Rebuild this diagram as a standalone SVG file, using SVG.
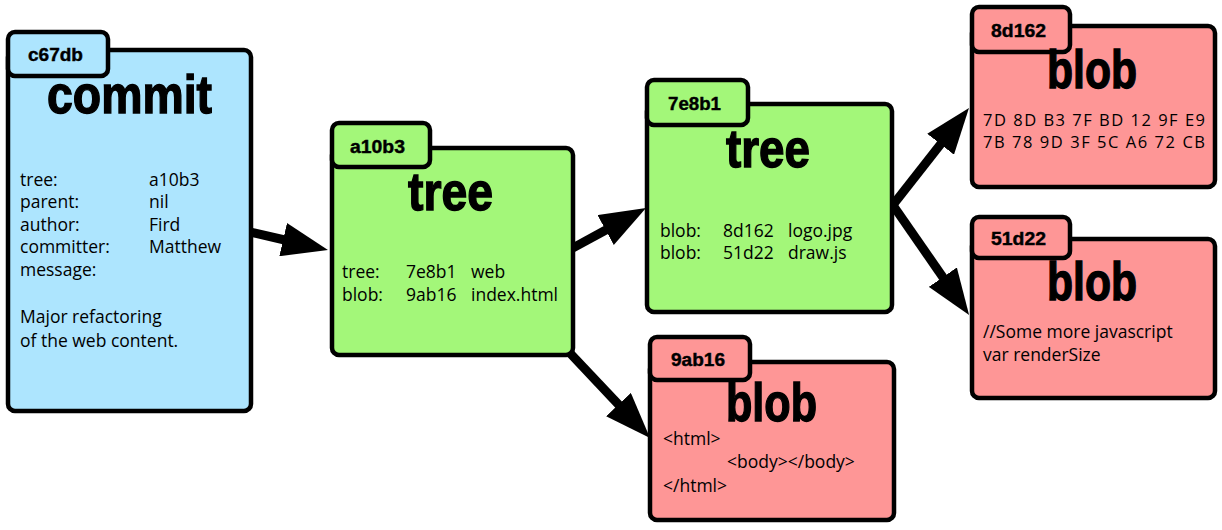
<svg xmlns="http://www.w3.org/2000/svg" width="1222" height="530" viewBox="0 0 1222 530">
<style>
.box{stroke:#000;stroke-width:4.5}
.commit{fill:#ADE5FE}
.tree{fill:#A3F779}
.blob{fill:#FE9696}
.tab{font-family:"Liberation Sans",Arial,sans-serif;font-weight:bold;font-size:18px;fill:#000;stroke:#000;stroke-width:0.4}
.title{font-family:"Liberation Sans",Arial,sans-serif;font-weight:bold;font-size:54px;fill:#000;stroke:#000;stroke-width:1.4}
.body{font-family:"Open Sans","Liberation Sans",sans-serif;font-size:17.5px;fill:#000}
.hex{font-size:16.5px}
.conn{stroke:#000;stroke-width:9;fill:none}
</style>
<defs>
<marker id="ah" markerUnits="userSpaceOnUse" viewBox="0 0 46 34" refX="6" refY="17" markerWidth="46" markerHeight="34" orient="auto">
<path d="M0,0 L46,17 L0,34 z" fill="#000"/>
</marker>
</defs>
<rect width="1222" height="530" fill="#fff"/>
<g id="connectors">
<line class="conn" x1="245" y1="230.8" x2="289" y2="241" marker-end="url(#ah)"/>
<line class="conn" x1="568" y1="250.6" x2="610.9" y2="227.2" marker-end="url(#ah)"/>
<line class="conn" x1="568" y1="351" x2="622.6" y2="408.9" marker-end="url(#ah)"/>
<line class="conn" x1="889" y1="210" x2="944.3" y2="139.5" marker-end="url(#ah)"/>
<line class="conn" x1="889" y1="199.5" x2="946.3" y2="282.1" marker-end="url(#ah)"/>
</g>
<g id="commit-c67db">
<rect class="box commit" x="8" y="50" width="243" height="361" rx="7"/>
<rect class="box commit" x="8" y="32" width="100" height="44" rx="7"/>
<text class="tab" x="28" y="61" textLength="55" lengthAdjust="spacingAndGlyphs">c67db</text>
<text class="title" x="47" y="113" textLength="165" lengthAdjust="spacingAndGlyphs">commit</text>
<text class="body" x="20" y="186">tree:</text><text class="body" x="149" y="186">a10b3</text>
<text class="body" x="20" y="208">parent:</text><text class="body" x="149" y="208">nil</text>
<text class="body" x="20" y="231">author:</text><text class="body" x="149" y="231">Fird</text>
<text class="body" x="20" y="253">committer:</text><text class="body" x="149" y="253">Matthew</text>
<text class="body" x="20" y="276">message:</text>
<text class="body" x="20" y="323">Major refactoring</text>
<text class="body" x="20" y="347">of the web content.</text>
</g>
<g id="tree-a10b3">
<rect class="box tree" x="332" y="148" width="241" height="207" rx="7"/>
<rect class="box tree" x="332" y="123" width="98" height="44" rx="7"/>
<text class="tab" x="350" y="153" textLength="55" lengthAdjust="spacingAndGlyphs">a10b3</text>
<text class="title" x="408" y="210" textLength="85" lengthAdjust="spacingAndGlyphs">tree</text>
<text class="body" x="342" y="278">tree:</text><text class="body" x="406" y="278">7e8b1</text><text class="body" x="471" y="278">web</text>
<text class="body" x="342" y="301">blob:</text><text class="body" x="406" y="301">9ab16</text><text class="body" x="471" y="301">index.html</text>
</g>
<g id="tree-7e8b1">
<rect class="box tree" x="647" y="104" width="245" height="208" rx="7"/>
<rect class="box tree" x="647" y="80" width="101" height="45" rx="7"/>
<text class="tab" x="668" y="110" textLength="53" lengthAdjust="spacingAndGlyphs">7e8b1</text>
<text class="title" x="726" y="167" textLength="84" lengthAdjust="spacingAndGlyphs">tree</text>
<text class="body" x="660" y="237">blob:</text><text class="body" x="723" y="237">8d162</text><text class="body" x="788" y="237">logo.jpg</text>
<text class="body" x="660" y="259">blob:</text><text class="body" x="723" y="259">51d22</text><text class="body" x="788" y="259">draw.js</text>
</g>
<g id="blob-9ab16">
<rect class="box blob" x="650" y="362" width="244" height="158" rx="7"/>
<rect class="box blob" x="650" y="337" width="100" height="43" rx="7"/>
<text class="tab" x="671" y="366" textLength="54" lengthAdjust="spacingAndGlyphs">9ab16</text>
<text class="title" x="726" y="421" textLength="91" lengthAdjust="spacingAndGlyphs">blob</text>
<text class="body" x="663" y="445">&lt;html&gt;</text>
<text class="body" x="727" y="468">&lt;body&gt;&lt;/body&gt;</text>
<text class="body" x="663" y="492">&lt;/html&gt;</text>
</g>
<g id="blob-8d162">
<rect class="box blob" x="972" y="26" width="243" height="161" rx="7"/>
<rect class="box blob" x="972" y="7" width="98" height="45" rx="7"/>
<text class="tab" x="991" y="37" textLength="55" lengthAdjust="spacingAndGlyphs">8d162</text>
<text class="title" x="1047" y="88" textLength="90" lengthAdjust="spacingAndGlyphs">blob</text>
<text class="body hex" x="983" y="126" textLength="222" lengthAdjust="spacing">7D 8D B3 7F BD 12 9F E9</text>
<text class="body hex" x="983" y="148" textLength="222" lengthAdjust="spacing">7B 78 9D 3F 5C A6 72 CB</text>
</g>
<g id="blob-51d22">
<rect class="box blob" x="972" y="239" width="243" height="159" rx="7"/>
<rect class="box blob" x="972" y="217" width="98" height="41" rx="7"/>
<text class="tab" x="991" y="245" textLength="55" lengthAdjust="spacingAndGlyphs">51d22</text>
<text class="title" x="1047" y="300" textLength="90" lengthAdjust="spacingAndGlyphs">blob</text>
<text class="body" x="983" y="338">//Some more javascript</text>
<text class="body" x="983" y="361">var renderSize</text>
</g>
</svg>
